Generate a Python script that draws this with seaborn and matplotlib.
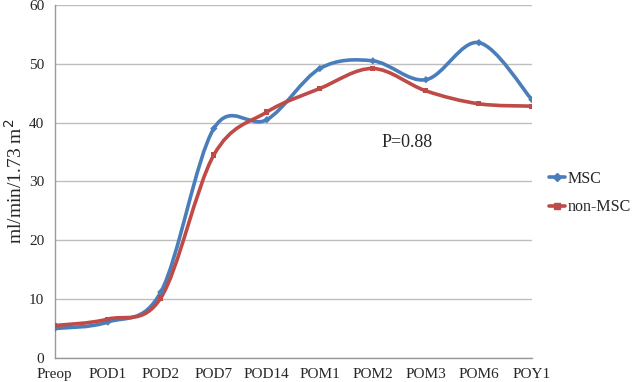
import numpy as np
import pandas as pd
import matplotlib
matplotlib.use("Agg")
import matplotlib.pyplot as plt
from matplotlib.path import Path
from matplotlib.patches import PathPatch
import seaborn as sns

categories = ['Preop', 'POD1', 'POD2', 'POD7', 'POD14', 'POM1', 'POM2', 'POM3', 'POM6', 'POY1']
msc = [5.0, 6.1, 11.2, 39.0, 40.5, 49.2, 50.5, 47.3, 53.6, 43.9]
non_msc = [5.5, 6.6, 10.2, 34.5, 41.8, 45.8, 49.2, 45.4, 43.2, 42.8]

BLUE = '#4A7EBB'
RED = '#BE4B48'


def smooth_path(xs, ys):
    # Excel-style smoothed line: cubic Bezier through every point
    pts = np.column_stack([xs, ys]).astype(float)
    n = len(pts)
    verts = [pts[0]]
    codes = [Path.MOVETO]
    for i in range(n - 1):
        p0 = pts[i - 1] if i > 0 else pts[i]
        p1 = pts[i]
        p2 = pts[i + 1]
        p3 = pts[i + 2] if i + 2 < n else pts[i + 1]
        c1 = p1 + (p2 - p0) / 6.0
        c2 = p2 - (p3 - p1) / 6.0
        verts += [c1, c2, p2]
        codes += [Path.CURVE4] * 3
    return Path(verts, codes)


df = pd.DataFrame({
    'time': categories * 2,
    'x': list(range(len(categories))) * 2,
    'value': msc + non_msc,
    'group': ['MSC'] * len(msc) + ['non-MSC'] * len(non_msc),
})

sns.set_style('white')
plt.rcParams['font.family'] = ['Liberation Serif', 'DejaVu Serif']

fig = plt.figure(figsize=(6.37, 3.82), dpi=100)
ax = fig.add_axes([0.086, 0.063, 0.749, 0.924])

for vals, col in [(msc, BLUE), (non_msc, RED)]:
    patch = PathPatch(smooth_path(range(len(vals)), vals), facecolor='none',
                      edgecolor=col, lw=2.6, capstyle='round', zorder=3)
    ax.add_patch(patch)

sns.scatterplot(data=df, x='x', y='value', hue='group', style='group',
                markers={'MSC': 'D', 'non-MSC': 's'},
                palette={'MSC': BLUE, 'non-MSC': RED},
                s=14, edgecolor='none', legend=False, ax=ax, zorder=4)

ax.set_xlim(0, len(categories) - 1)
ax.set_ylim(0, 60)
ax.set_yticks(range(0, 61, 10))
ax.set_xticks(range(len(categories)))
ax.set_xticklabels(categories)
ax.tick_params(axis='both', labelsize=11, length=4, width=0.8, color='#999999', direction='out')
ax.tick_params(axis='x', pad=3)
ax.yaxis.grid(True, color='#BEBEBE', lw=1)
ax.set_axisbelow(True)
for s in ['top', 'right']:
    ax.spines[s].set_visible(False)
for s in ['left', 'bottom']:
    ax.spines[s].set_color('#999999')
    ax.spines[s].set_linewidth(1)
ax.set_xlabel('')
ax.set_ylabel('ml/min/1.73 m$^2$', fontsize=14)
ax.yaxis.set_label_coords(-0.06, 0.5)

ax.text(6.65, 36.6, 'P=0.88', fontsize=13, ha='center', va='center')

handles = [
    plt.Line2D([], [], color=BLUE, lw=2.6, marker='D', markersize=4),
    plt.Line2D([], [], color=RED, lw=2.6, marker='s', markersize=4),
]
fig.legend(handles, ['MSC', 'non-MSC'], loc='upper left', bbox_to_anchor=(0.852, 0.57),
           frameon=False, fontsize=11.5, handlelength=1.0, handletextpad=0.15,
           labelspacing=0.8, borderaxespad=0)

fig.savefig('out.png', dpi=100)
